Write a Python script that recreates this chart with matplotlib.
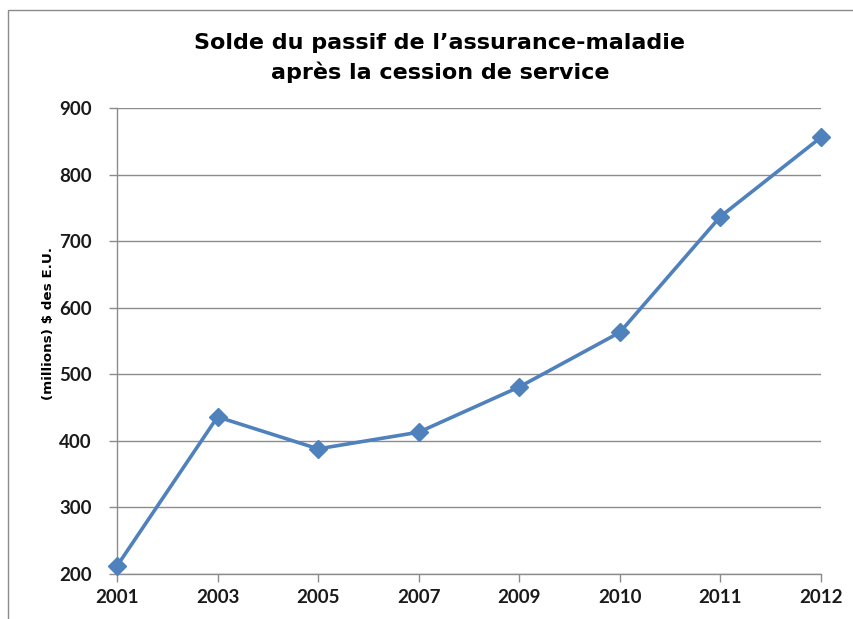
import matplotlib
matplotlib.use('Agg')
import matplotlib.pyplot as plt
from matplotlib.patches import Rectangle

years = ['2001', '2003', '2005', '2007', '2009', '2010', '2011', '2012']
balance = [212, 436, 388, 413, 481, 563, 737, 856]
y_ticks = [200, 300, 400, 500, 600, 700, 800, 900]

title_lines = ["Solde du passif de l\u2019assurance-maladie",
               "après la cession de service"]
y_label = "(millions) $ des E.U."

blue = '#4F81BD'
grid_grey = '#8C8C8C'
tick_font = ['Lato', 'DejaVu Sans']
title_font = ['DejaVu Sans']

fig = plt.figure(figsize=(8.54, 6.19), dpi=100)
W, H = 854, 619
ax = fig.add_axes([117 / W, 1 - 574 / H, (821 - 117) / W, (574 - 108) / H])

# chart area border (cropped on the right and bottom)
fig.patches.append(Rectangle((8 / W, -0.1), 1.2, 1.1 - 10 / H,
                             transform=fig.transFigure, fill=False,
                             edgecolor='#8A8A8A', linewidth=1.0))

x = list(range(len(years)))
ax.plot(x, balance, color=blue, linewidth=2.6, marker='D', markersize=9.5,
        markerfacecolor=blue, markeredgecolor=blue, clip_on=False, zorder=3)

ax.set_xlim(0, len(years) - 1)
ax.set_ylim(200, 900)
ax.set_xticks(x)
ax.set_xticklabels(years)
ax.set_yticks(y_ticks)
ax.grid(axis='y', color=grid_grey, linewidth=1.0)
ax.set_axisbelow(True)

for side in ['top', 'right']:
    ax.spines[side].set_visible(False)
for side in ['left', 'bottom']:
    ax.spines[side].set_color(grid_grey)
    ax.spines[side].set_linewidth(1.0)

ax.tick_params(axis='both', direction='out', length=6, width=1.0,
               color=grid_grey, labelcolor='#1a1a1a')
ax.tick_params(axis='y', pad=12)
ax.tick_params(axis='x', pad=5)
for lab in ax.get_xticklabels() + ax.get_yticklabels():
    lab.set_family(tick_font)
    lab.set_fontweight('bold')
    lab.set_fontsize(13.5)

# two title lines placed separately to get the wide line gap
fig.text(440 / W, 1 - 43 / H, title_lines[0], ha='center', va='center',
         family=title_font, fontweight='bold', fontsize=16, color='black')
fig.text(440 / W, 1 - 72 / H, title_lines[1], ha='center', va='center',
         family=title_font, fontweight='bold', fontsize=16, color='black')
fig.text(49 / W, 1 - 323 / H, y_label, rotation=90, ha='center', va='center',
         family=title_font, fontweight='bold', fontsize=9.7, color='black')

fig.savefig('out.png', dpi=100)
